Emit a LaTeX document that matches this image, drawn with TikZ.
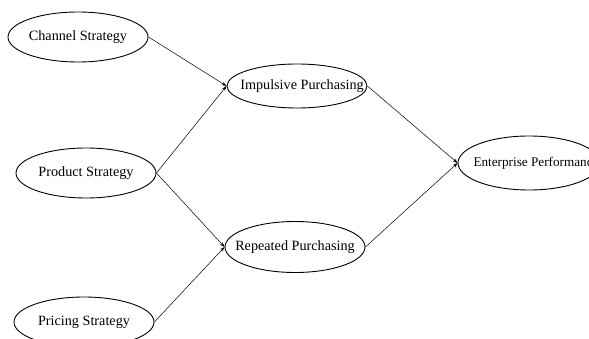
\documentclass[tikz,border=0pt]{standalone}
\usepackage{fontspec}
\setmainfont{Liberation Serif}
\usetikzlibrary{shapes.geometric,arrows.meta}
\newcommand{\zb}[1]{\makebox[0pt]{#1}}
\begin{document}
\begin{tikzpicture}[x=1pt,y=-1pt,
  ell/.style={draw, ellipse, line width=0.9pt, minimum width=140pt, minimum height=50pt, inner sep=0pt, font=\fontsize{14.2}{16}\selectfont},
  conn/.style={-{Stealth[length=5pt,width=3.5pt]}, line width=0.5pt}]
\useasboundingbox (0,0) rectangle (589,339);
\node[ell] (ch) at (78,37) {\zb{Channel Strategy}};
\node[ell, minimum height=44pt] (imp) at (297,86) {\zb{\hspace{10pt}Impulsive Purchasing}};
\node[ell] (prod) at (86,173) {\zb{Product Strategy}};
\node[ell, minimum height=51pt] (rep) at (295,247) {\zb{Repeated Purchasing}};
\node[ell] (pri) at (84,322) {\zb{Pricing Strategy}};
\node[ell, minimum width=142pt, minimum height=54pt, font=\fontsize{13.2}{15}\selectfont] (ent) at (529,163) {\zb{\hspace{14pt}Enterprise Performance}};
\draw[conn] (ch.east) -- (imp.west);
\draw[conn] (prod.east) -- (imp.west);
\draw[conn] (prod.east) -- (rep.west);
\draw[conn] (pri.east) -- (rep.west);
\draw[conn] (imp.east) -- (ent.west);
\draw[conn] (rep.east) -- (ent.west);
\end{tikzpicture}
\end{document}
